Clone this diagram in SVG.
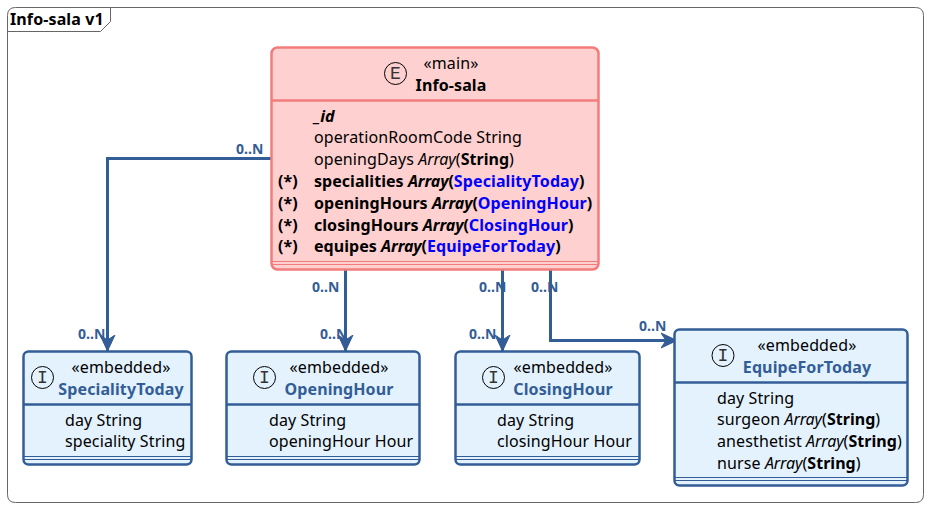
<svg xmlns="http://www.w3.org/2000/svg" width="928" height="507" viewBox="0 0 928 507">
<style>
text{font-family:"Noto Sans","DejaVu Sans",sans-serif;font-size:16px;fill:#000;white-space:pre;letter-spacing:.11px}
.b{font-weight:700;letter-spacing:.04px}.i{font-style:italic;letter-spacing:-.1px}
.t{fill:#000;font-weight:700}
.st{text-anchor:middle}
.nm{font-weight:700;fill:#335d96;text-anchor:middle}
.mn{font-weight:700;text-anchor:middle}
.card{font-size:14px;font-weight:700;fill:#335d96;letter-spacing:0}
.l{fill:#0000ff;font-weight:700;letter-spacing:.1px}
.ic{font-family:"Liberation Mono",monospace;font-size:18px;fill:#333;text-anchor:middle;letter-spacing:0}
.box{fill:#e3f2fd;stroke:#335d96;stroke-width:2.5}
.dv{stroke:#335d96;stroke-width:2.5;fill:none}
.dt{stroke:#335d96;stroke-width:1;fill:none}
.mbox{fill:#ffd0d0;stroke:#f27c7c;stroke-width:2.5}
.mdv{stroke:#f27c7c;stroke-width:2.5;fill:none}
.mdt{stroke:#f27c7c;stroke-width:1;fill:none}
.c{fill:none;stroke:#335d96;stroke-width:3}
.ci{fill:none;stroke:#000;stroke-width:1}
</style>
<defs>
<marker id="a" markerUnits="userSpaceOnUse" markerWidth="20" markerHeight="20" refX="16" refY="10" orient="auto"><path d="M0 2.5L16 10L0 17.500L5 10Z" fill="#335d96" stroke="#335d96" stroke-width="1"/></marker>
</defs>
<g id="frame">
<path d="M15.5 7.5H915.5Q923.5 7.5 923.5 15.5V494.5Q923.5 502.5 915.5 502.5H15.5Q7.5 502.5 7.5 494.5V15.5Q7.5 7.5 15.5 7.5Z" fill="#fff" stroke="#666" stroke-width="1"/>
<path d="M7.5 31.5H100.5L110.5 21.5V7.5" fill="none" stroke="#666" stroke-width="1"/>
<text x="10" y="25" class="t">Info-sala v1</text>
</g>
<g id="connectors">
<path class="c" d="M272 158.500H107.500V351" marker-end="url(#a)"/>
<path class="c" d="M345.500 269V351" marker-end="url(#a)"/>
<path class="c" d="M502.500 269V351" marker-end="url(#a)"/>
<path class="c" d="M550.500 269V340.500H677" marker-end="url(#a)"/>
<text class="card" x="236" y="154">0..N</text>
<text class="card" x="78" y="339">0..N</text>
<text class="card" x="312" y="292">0..N</text>
<text class="card" x="320" y="339">0..N</text>
<text class="card" x="479" y="292">0..N</text>
<text class="card" x="469" y="339">0..N</text>
<text class="card" x="531" y="292">0..N</text>
<text class="card" x="639" y="331">0..N</text>
</g>
<g id="Info-sala">
<rect class="mbox" x="271.500" y="47.500" width="327" height="222" rx="6"/>
<path class="mdv" d="M271.500 100.500H598.500"/>
<path class="mdt" d="M271.500 261.500H598.500M271.500 264.500H598.500"/>
<circle class="ci" cx="395.500" cy="73.500" r="11"/>
<text class="ic" x="395.500" y="79">E</text>
<text class="st" x="451" y="69">«main»</text>
<text class="mn" x="451" y="91">Info-sala</text>
<text x="314" y="122" class="b i">_id</text>
<text x="314" y="143">operationRoomCode String</text>
<text x="314" y="165">openingDays <tspan class="i">Array</tspan>(<tspan class="b">String</tspan>)</text>
<text x="278" y="187" class="b">(*)</text>
<text x="314" y="187" class="b">specialities <tspan class="i">Array</tspan>(<tspan class="l">SpecialityToday</tspan>)</text>
<text x="278" y="209" class="b">(*)</text>
<text x="314" y="209" class="b">openingHours <tspan class="i">Array</tspan>(<tspan class="l">OpeningHour</tspan>)</text>
<text x="278" y="231" class="b">(*)</text>
<text x="314" y="231" class="b">closingHours <tspan class="i">Array</tspan>(<tspan class="l">ClosingHour</tspan>)</text>
<text x="278" y="252" class="b">(*)</text>
<text x="314" y="252" class="b">equipes <tspan class="i">Array</tspan>(<tspan class="l">EquipeForToday</tspan>)</text>
</g>
<g id="SpecialityToday">
<rect class="box" x="23.500" y="351.500" width="168" height="113" rx="5"/>
<path class="dv" d="M23.500 404.500H191.500"/>
<path class="dt" d="M23.500 456.500H191.500M23.500 459.500H191.500"/>
<circle class="ci" cx="42.500" cy="377.500" r="11"/>
<text class="ic" x="42.500" y="383">I</text>
<text class="st" x="121" y="373">«embedded»</text>
<text class="nm" x="121" y="395">SpecialityToday</text>
<text x="65" y="426">day String</text>
<text x="65" y="447">speciality String</text>
</g>
<g id="OpeningHour">
<rect class="box" x="226.500" y="351.500" width="193" height="113" rx="5"/>
<path class="dv" d="M226.500 404.500H419.500"/>
<path class="dt" d="M226.500 456.500H419.500M226.500 459.500H419.500"/>
<circle class="ci" cx="264.500" cy="377.500" r="11"/>
<text class="ic" x="264.500" y="383">I</text>
<text class="st" x="339" y="373">«embedded»</text>
<text class="nm" x="339" y="395">OpeningHour</text>
<text x="269" y="426">day String</text>
<text x="269" y="447">openingHour Hour</text>
</g>
<g id="ClosingHour">
<rect class="box" x="455.500" y="351.500" width="184" height="113" rx="5"/>
<path class="dv" d="M455.500 404.500H639.500"/>
<path class="dt" d="M455.500 456.500H639.500M455.500 459.500H639.500"/>
<circle class="ci" cx="493.500" cy="377.500" r="11"/>
<text class="ic" x="493.500" y="383">I</text>
<text class="st" x="563" y="373">«embedded»</text>
<text class="nm" x="563" y="395">ClosingHour</text>
<text x="497" y="426">day String</text>
<text x="497" y="447">closingHour Hour</text>
</g>
<g id="EquipeForToday">
<rect class="box" x="674.500" y="329.500" width="233" height="156" rx="5"/>
<path class="dv" d="M674.500 382.500H907.500"/>
<path class="dt" d="M674.500 477.500H907.500M674.500 480.500H907.500"/>
<circle class="ci" cx="723" cy="355.500" r="11"/>
<text class="ic" x="723" y="361">I</text>
<text class="st" x="807" y="351">«embedded»</text>
<text class="nm" x="807" y="373">EquipeForToday</text>
<text x="717" y="404">day String</text>
<text x="717" y="425">surgeon <tspan class="i">Array</tspan>(<tspan class="b">String</tspan>)</text>
<text x="717" y="447">anesthetist <tspan class="i">Array</tspan>(<tspan class="b">String</tspan>)</text>
<text x="717" y="469">nurse <tspan class="i">Array</tspan>(<tspan class="b">String</tspan>)</text>
</g>
</svg>
